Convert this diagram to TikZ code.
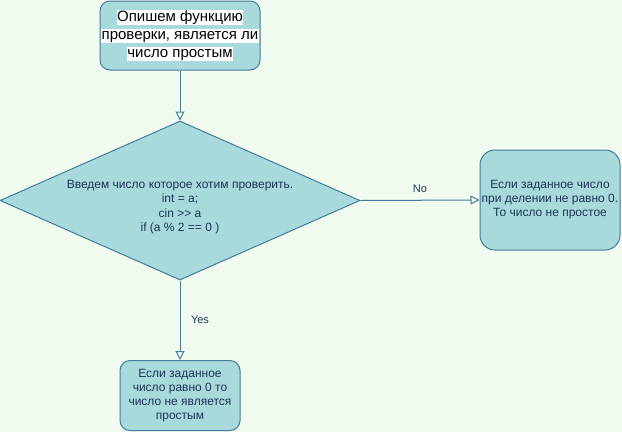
\documentclass[tikz,border=0pt]{standalone}
\usepackage{fontspec}
\setmainfont{Liberation Sans}
\usetikzlibrary{shapes.geometric,arrows.meta}
\definecolor{bg}{HTML}{F1FAEE}
\definecolor{fillc}{HTML}{A8DADC}
\definecolor{linec}{HTML}{457B9D}
\definecolor{txt}{HTML}{1D3557}
\newcommand{\wbox}[1]{{\setlength{\fboxsep}{0.5pt}\colorbox{white}{\vphantom{Ару}#1}}}
\begin{document}
\begin{tikzpicture}[x=1pt,y=-1pt,
  box/.style={draw=linec, fill=fillc, line width=1pt, text=txt, align=center, inner sep=0pt},
  conn/.style={draw=linec, line width=1pt, -{Triangle[open,length=9pt,width=9pt,line width=1pt]}},
  lbl/.style={text=txt, font=\fontsize{11}{13}\selectfont, inner sep=0pt}]
\fill[bg] (0,0) rectangle (622,432);
\useasboundingbox (0,0) rectangle (622,432);
\node[box, rounded corners=10pt, minimum width=160pt, minimum height=69pt,
  font=\fontsize{15}{18}\selectfont, text=black] (start) at (180,35.5)
  {\wbox{Опишем функцию}\\\wbox{проверки, является ли}\\\wbox{число простым}};
\node[box, diamond, shape aspect=2.264, minimum width=360pt, minimum height=159pt,
  font=\fontsize{12}{14.5}\selectfont] (dec) at (180,200.5)
  {\raisebox{-9.5pt}[0pt][0pt]{\begin{tabular}{@{}c@{}}Введем число которое хотим проверить.\\int = a;\\cin >{}> a\\if (a \% 2 == 0 )\end{tabular}}};
\node[box, rounded corners=15pt, minimum width=140pt, minimum height=100pt,
  font=\fontsize{12}{14}\selectfont] (no) at (550,200)
  {Если заданное число\\при делении не равно 0.\\То число не простое};
\node[box, rounded corners=10pt, minimum width=120pt, minimum height=70pt,
  font=\fontsize{12}{14}\selectfont] (yes) at (180,395.5)
  {Если заданное\\число равно 0 то\\число не является\\простым};
\draw[conn] (start) -- (dec);
\draw[conn] (dec.east) -- (no.west) node[lbl, midway, yshift=11pt] {No};
\draw[conn] (dec.south) -- (yes.north) node[lbl, midway, xshift=20pt] {Yes};
\end{tikzpicture}
\end{document}
